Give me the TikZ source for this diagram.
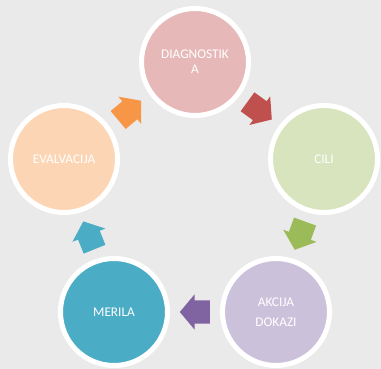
\documentclass[tikz,border=0pt]{standalone}
\usepackage{fontspec}
\setmainfont{Carlito}
\usepackage{xcolor}
\usetikzlibrary{shapes.arrows,calc}
\definecolor{bgray}{HTML}{EAEAEA}
\definecolor{diagfill}{HTML}{E6B9B8}
\definecolor{cilifill}{HTML}{D7E4BD}
\definecolor{akcfill}{HTML}{CCC1DA}
\definecolor{merfill}{HTML}{4BACC6}
\definecolor{evalfill}{HTML}{FCD5B5}
\definecolor{arrorange}{HTML}{F79646}
\definecolor{arrred}{HTML}{C0504D}
\definecolor{arrgreen}{HTML}{9BBB59}
\definecolor{arrpurple}{HTML}{8064A2}
\definecolor{arrblue}{HTML}{4BACC6}

\begin{document}
\begin{tikzpicture}[x=1pt,y=-1pt,font=\fontsize{13.3}{15}\selectfont,
  stage/.style={circle,draw=white,line width=5pt,minimum size=107pt,inner sep=0pt,text=white,align=center},
  turn/.style={single arrow,anchor=tail,inner xsep=0pt,inner ysep=11.5pt,minimum width=30pt,minimum height=30pt,
    single arrow head extend=6pt,single arrow tip angle=100}]
\fill[bgray] (0,0) rectangle (381,369);
\useasboundingbox (0,0) rectangle (381,369);
% stages of the cycle
\node[stage,fill=diagfill] (diag) at (195,62) {DIAGNOSTIK\\A};
\node[stage,fill=cilifill] (cili) at (324,159) {CILI};
\node[stage,fill=akcfill,font=\fontsize{13.3}{20}\selectfont] (akc) at (276,312) {AKCIJA\\DOKAZI};
\node[stage,fill=merfill] (mer) at (114,312) {MERILA};
\node[stage,fill=evalfill] (eval) at (64,159) {EVALVACIJA};
% block arrows between stages (tail placed half a length behind the midpoint)
\node[turn,fill=arrred,rotate=-36] (a1) at ($(diag)!0.5!(cili)+({-15*cos(-36)},{15*sin(-36)})$) {};
\node[turn,fill=arrgreen,rotate=-110] (a2) at ($(cili)!0.5!(akc)+({-15*cos(-110)},{15*sin(-110)})$) {};
\node[turn,fill=arrpurple,rotate=180] (a3) at ($(akc)!0.5!(mer)+({-15*cos(180)},{15*sin(180)})$) {};
\node[turn,fill=arrblue,rotate=112] (a4) at ($(mer)!0.5!(eval)+({-15*cos(112)},{15*sin(112)})$) {};
\node[turn,fill=arrorange,rotate=40] (a5) at ($(eval)!0.5!(diag)+({-15*cos(40)},{15*sin(40)})$) {};
\end{tikzpicture}
\end{document}
